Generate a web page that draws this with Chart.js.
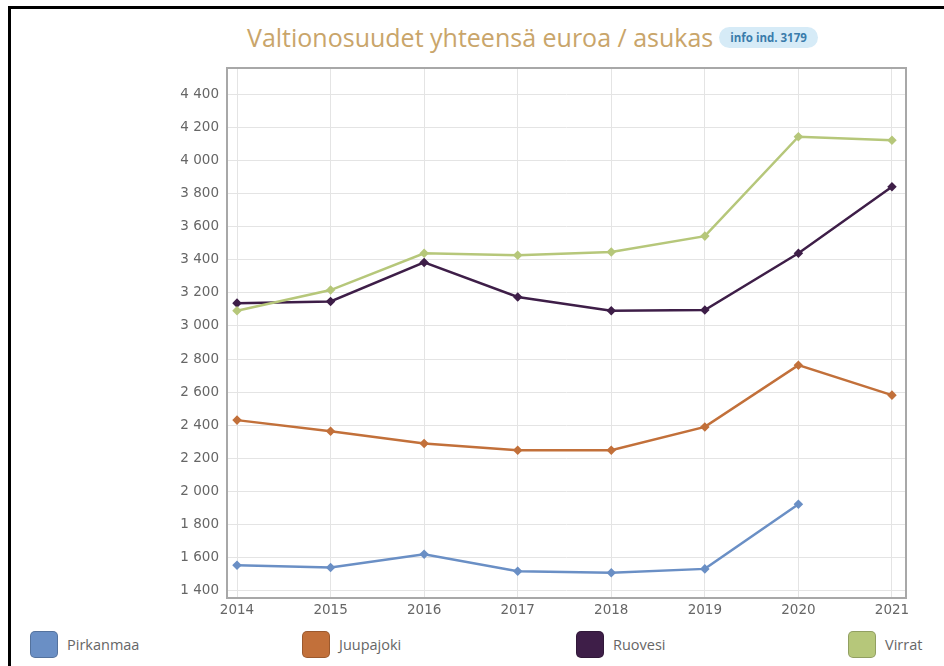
<!DOCTYPE html>
<html>
<head>
<meta charset="utf-8">
<script src="https://cdn.jsdelivr.net/npm/chart.js@4/dist/chart.umd.min.js"></script>
<style>
  html, body { margin:0; padding:0; background:#fff; width:944px; height:666px; overflow:hidden; position:relative; font-family:"Open Sans", sans-serif; }
  #frameTop { position:absolute; left:8px; top:6px; width:936px; height:3px; background:#000; }
  #frameLeft { position:absolute; left:8px; top:6px; width:3px; height:660px; background:#000; }
  #title { position:absolute; left:247px; top:20px; white-space:nowrap; }
  #title .t { font-family:"Open Sans", sans-serif; font-size:25px; color:#c9a56a; vertical-align:middle; }
  #title .b { display:inline-block; vertical-align:middle; margin-left:6px; background:#d6ebf7; color:#3a7cab; font-size:11.5px; font-weight:bold; padding:3px 11px; border-radius:11px; font-family:"Open Sans", sans-serif; }
  #wrap { position:absolute; left:0; top:0; width:944px; height:625px; }
  .leg { position:absolute; top:630px; height:28px; display:flex; align-items:center; font-family:"Open Sans", sans-serif; font-size:14.5px; color:#666; }
  .leg .sw { width:28px; height:27px; border-radius:5px; margin-right:9px; box-sizing:border-box; border:1px solid rgba(0,0,0,0.2); }
</style>
</head>
<body>
<div id="frameTop"></div>
<div id="frameLeft"></div>
<div id="title"><span class="t">Valtionosuudet yhteensä euroa / asukas</span><span class="b">info ind. 3179</span></div>
<div id="wrap"><canvas id="c" width="944" height="625"></canvas></div>
<div id="legend"></div>
<script>
const years = [2014, 2015, 2016, 2017, 2018, 2019, 2020, 2021];
const seriesNames = ["Pirkanmaa", "Juupajoki", "Ruovesi", "Virrat"];
const pirkanmaa = [1554, 1540, 1621, 1518, 1508, 1532, 1923, null];
const juupajoki = [2431, 2364, 2290, 2249, 2249, 2390, 2763, 2582];
const ruovesi   = [3138, 3148, 3384, 3175, 3092, 3096, 3439, 3841];
const virrat    = [3092, 3217, 3439, 3428, 3447, 3543, 4144, 4122];
const yTicks = [1400, 1600, 1800, 2000, 2200, 2400, 2600, 2800, 3000, 3200, 3400, 3600, 3800, 4000, 4200, 4400];
const colors = ["#6a8fc5", "#c2703a", "#3e1e48", "#b6c77a"];

const allSeries = [pirkanmaa, juupajoki, ruovesi, virrat];

const fmt = v => String(v).replace(/\B(?=(\d{3})+(?!\d))/g, " ");

const frameBox = {
  id: 'frameBox',
  afterDraw(chart) {
    const a = chart.chartArea, ctx = chart.ctx;
    ctx.save();
    ctx.strokeStyle = '#a8a8a8';
    ctx.lineWidth = 2;
    ctx.strokeRect(a.left, a.top, a.right - a.left, a.bottom - a.top);
    ctx.restore();
  }
};

const tickFont = { family: 'DejaVu Sans', size: 13.5 };

new Chart(document.getElementById('c'), {
  type: 'line',
  data: {
    datasets: allSeries.map((s, i) => ({
      label: seriesNames[i],
      data: years.map((y, j) => ({ x: y, y: s[j] })),
      borderColor: colors[i],
      backgroundColor: colors[i],
      borderWidth: 2.5,
      pointRadius: 3,
      pointStyle: 'rectRot',
      pointHoverRadius: 3,
      tension: 0,
      spanGaps: false
    })).reverse()
  },
  options: {
    responsive: false,
    animation: false,
    layout: { padding: { left: 0, top: 68, right: 38, bottom: 0 } },
    plugins: { legend: { display: false }, title: { display: false }, tooltip: { enabled: false } },
    scales: {
      x: {
        type: 'linear',
        min: 2013.893,
        max: 2021.15,
        afterBuildTicks: s => { s.ticks = years.map(v => ({ value: v })); },
        afterFit: s => { s.height = 27; },
        grid: { color: '#e4e4e4', lineWidth: 1, drawTicks: false },
        border: { display: false },
        ticks: { padding: 4, color: '#666', font: tickFont, callback: v => String(v), autoSkip: false, maxRotation: 0 }
      },
      y: {
        min: 1356,
        max: 4559,
        afterBuildTicks: s => { s.ticks = yTicks.map(v => ({ value: v })); },
        afterFit: s => { s.width = 227; },
        grid: { color: '#e4e4e4', lineWidth: 1, drawTicks: false },
        border: { display: false },
        ticks: { padding: 8, color: '#666', font: tickFont, callback: v => fmt(v) }
      }
    }
  },
  plugins: [frameBox]
});

const legendLefts = [30, 302, 576, 848];
const leg = document.getElementById('legend');
seriesNames.forEach((n, i) => {
  const d = document.createElement('div');
  d.className = 'leg';
  d.style.left = legendLefts[i] + 'px';
  d.innerHTML = '<div class="sw" style="background:' + colors[i] + '"></div><span>' + n + '</span>';
  leg.appendChild(d);
});
</script>
</body>
</html>
